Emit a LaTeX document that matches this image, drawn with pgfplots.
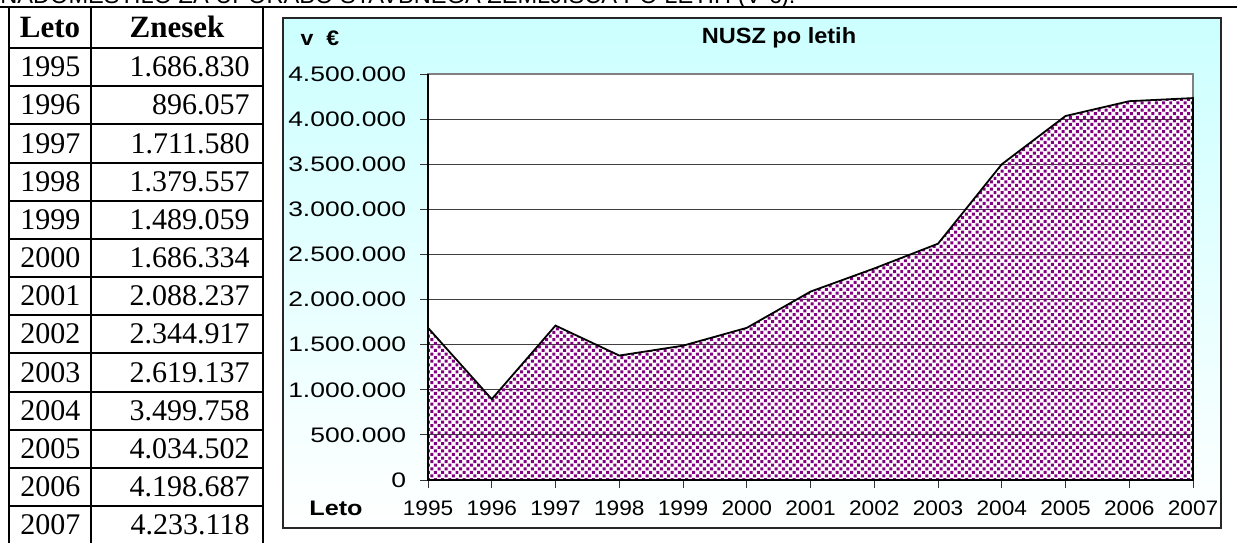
\documentclass[border=0pt]{standalone}
\usepackage{pgfplots}
\pgfplotsset{compat=1.18}
\usetikzlibrary{patterns}
\usepackage{fontspec}
\setmainfont{Liberation Serif}
\newfontfamily\arial{Liberation Sans}
\definecolor{bgcyan}{RGB}{204,255,255}
\definecolor{dotpurple}{RGB}{128,0,128}
\pgfdeclarepatternformonly{nuszdots}{\pgfqpoint{-0.1pt}{-0.1pt}}{\pgfqpoint{3.8pt}{3.8pt}}{\pgfqpoint{3.6pt}{3.6pt}}{%
  \pgfpathrectangle{\pgfqpoint{0pt}{0pt}}{\pgfqpoint{1.5pt}{1.5pt}}%
  \pgfpathrectangle{\pgfqpoint{1.8pt}{1.8pt}}{\pgfqpoint{1.5pt}{1.5pt}}%
  \pgfusepath{fill}}
\pgfplotstableread{
year value
1995 1686830
1996 896057
1997 1711580
1998 1379557
1999 1489059
2000 1686334
2001 2088237
2002 2344917
2003 2619137
2004 3499758
2005 4034502
2006 4198687
2007 4233118
}\nuszdata
\newcommand{\yl}[1]{\scalebox{1.26}[1]{#1}}
\newcommand{\xl}[1]{\scalebox{1.08}[1]{#1}}
\begin{document}
\begin{tikzpicture}[x=1bp,y=1bp]
\useasboundingbox (0,0) rectangle (620,271);
% clipped heading
\begin{scope}
\clip (0,0) rectangle (620,271);
\node[anchor=base west, inner sep=0, font=\arial\fontsize{11.8bp}{14bp}\selectfont] at (0,269.4) {NADOMESTILO ZA UPORABO STAVBNEGA ZEMLJIŠČA PO LETIH (V €).};
\end{scope}
\draw[line width=1bp] (0,267.5) -- (618.5,267.5);
% table
\begin{scope}
\clip (0,0) rectangle (620,271);
\foreach \xx in {4.5,45.5,131.5} \draw[line width=1bp] (\xx,267.5) -- (\xx,-2);
\foreach \k in {0,...,12} \draw[line width=1bp] (4.5,{247-19.085*\k}) -- (131.5,{247-19.085*\k});
\node[anchor=base, inner sep=0, font=\bfseries\fontsize{15.5bp}{17bp}\selectfont] at (25,252.15) {Leto};
\node[anchor=base, inner sep=0, font=\bfseries\fontsize{15.5bp}{17bp}\selectfont] at (88.5,252.15) {Znesek};
\foreach \yr/\val [count=\k from 0] in {1995/1.686.830,1996/896.057,1997/1.711.580,1998/1.379.557,1999/1.489.059,2000/1.686.334,2001/2.088.237,2002/2.344.917,2003/2.619.137,2004/3.499.758,2005/4.034.502,2006/4.198.687,2007/4.233.118}{
  \node[anchor=base west, inner sep=0, font=\fontsize{15bp}{17bp}\selectfont] at (10,{271-(48+38.17*(\k+1)-9.5)/2}) {\yr};
  \node[anchor=base east, inner sep=0, font=\fontsize{15bp}{17bp}\selectfont] at (125,{271-(48+38.17*(\k+1)-9.5)/2}) {\val};
}
\end{scope}
% chart frame
\draw[draw=black!85, line width=0.6bp, top color=bgcyan, bottom color=white] (141.5,7) rectangle (610.5,262);
\begin{axis}[
  at={(214bp,31bp)}, anchor=south west,
  scale only axis, width=382.5bp, height=203bp,
  xmin=1995, xmax=2007, ymin=0, ymax=4500000,
  xtick={1995,1996,1997,1998,1999,2000,2001,2002,2003,2004,2005,2006,2007},
  xticklabels={\xl{1995},\xl{1996},\xl{1997},\xl{1998},\xl{1999},\xl{2000},\xl{2001},\xl{2002},\xl{2003},\xl{2004},\xl{2005},\xl{2006},\xl{2007}},
  ytick={0,500000,1000000,1500000,2000000,2500000,3000000,3500000,4000000,4500000},
  yticklabels={\yl{0},\yl{500.000},\yl{1.000.000},\yl{1.500.000},\yl{2.000.000},\yl{2.500.000},\yl{3.000.000},\yl{3.500.000},\yl{4.000.000},\yl{4.500.000}},
  scaled y ticks=false,
  tick pos=left, tick align=outside, major tick length=4bp,
  tick style={black!80, line width=0.5bp},
  axis line style={draw=black!50, line width=0.7bp},
  axis background/.style={fill=white},
  ymajorgrids, grid style={black!75, line width=0.5bp},
  xticklabel style={font=\arial\fontsize{10.5bp}{12bp}\selectfont, yshift=-3bp},
  yticklabel style={font=\arial\fontsize{10.5bp}{12bp}\selectfont, xshift=-3.5bp},
  clip=false,
]
\addplot[draw=black, line width=0.9bp, pattern=nuszdots, pattern color=dotpurple] table[x=year,y=value]{\nuszdata} \closedcycle;
\draw[black, line width=0.9bp] (rel axis cs:0,1) -- (rel axis cs:0,0) -- (rel axis cs:1,0);
\end{axis}
\node[font=\arial\bfseries\fontsize{10.5bp}{12bp}\selectfont] at (160,252) {\scalebox{1.1}[1]{v\ \ €}};
\node[font=\arial\bfseries\fontsize{11bp}{13bp}\selectfont] at (389.5,252) {\scalebox{1.07}[1]{NUSZ po letih}};
\node[font=\arial\bfseries\fontsize{10.5bp}{12bp}\selectfont] at (168,17) {\scalebox{1.2}[1]{Leto}};
\end{tikzpicture}
\end{document}
